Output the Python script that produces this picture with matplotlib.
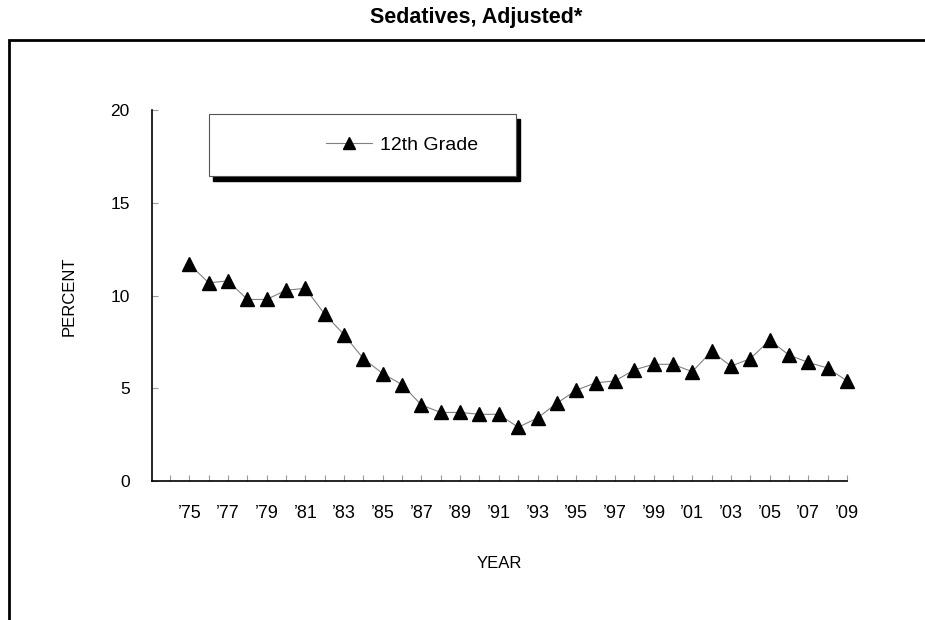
import matplotlib.pyplot as plt
from matplotlib.patches import Rectangle

plt.rcParams['font.family'] = ['Liberation Sans', 'DejaVu Sans']

# 12th grade sedatives (adjusted), percent
years = list(range(1975, 2010))
sedatives_12th = [11.7, 10.7, 10.8, 9.8, 9.8, 10.3, 10.4, 9.0, 7.9, 6.6,
                  5.8, 5.2, 4.1, 3.7, 3.7, 3.6, 3.6, 2.9, 3.4, 4.2,
                  4.9, 5.3, 5.4, 6.0, 6.3, 6.3, 5.9, 7.0, 6.2, 6.6,
                  7.6, 6.8, 6.4, 6.1, 5.4]
tick_years = list(range(1974, 2010))
tick_labels = ["\u2019%02d" % (y % 100) if y % 2 == 1 else "" for y in tick_years]
y_ticks = [0, 5, 10, 15, 20]

W, H = 925, 620
fig = plt.figure(figsize=(W / 100, H / 100), dpi=100)

# outer chart frame (runs off the right and bottom edges)
fig.add_artist(Rectangle((8.5 / W, -0.1), 1.2, 1 - 40 / H + 0.1,
                         transform=fig.transFigure, fill=False,
                         ec='black', lw=2))
fig.text(476 / W, 1 - 17 / H, 'Sedatives, Adjusted*', ha='center', va='center',
         fontsize=15.5, fontweight='bold')

ax = fig.add_axes([152 / W, 1 - 481 / H, 695 / W, 370.5 / H])
ax.plot(years, sedatives_12th, color='#808080', lw=0.8, marker='^',
        markersize=9.5, markerfacecolor='black', markeredgecolor='black',
        clip_on=False, zorder=3, label='12th Grade')

ax.set_xlim(1973.07, 2009)
ax.set_ylim(0, 20)
ax.set_xticks(tick_years)
ax.set_xticklabels(tick_labels)
ax.set_yticks(y_ticks)
ax.tick_params(axis='x', direction='in', length=4, width=0.8, color='#999999',
               pad=17.5, labelsize=13)
ax.tick_params(axis='y', direction='in', length=4, width=0.8, color='#999999',
               pad=16, labelsize=12.5)
for side in ['top', 'right']:
    ax.spines[side].set_visible(False)
for side in ['left', 'bottom']:
    ax.spines[side].set_color('black')
    ax.spines[side].set_linewidth(1.2)

ax.set_xlabel('YEAR', fontsize=12, labelpad=24)
ax.set_ylabel('PERCENT', fontsize=12, labelpad=24)

# legend box with solid black shadow
bx0, bx1 = (209 - 152) / 695, (516 - 152) / 695
by0, by1 = (481 - 176) / 370.5, (481 - 114) / 370.5
ax.add_patch(Rectangle((bx0 + 4 / 695, by0 - 5 / 370.5), bx1 - bx0, by1 - by0,
                       transform=ax.transAxes, fc='black', ec='black',
                       clip_on=False, zorder=4))
ax.add_patch(Rectangle((bx0, by0), bx1 - bx0, by1 - by0,
                       transform=ax.transAxes, fc='white', ec='#555555', lw=0.8,
                       clip_on=False, zorder=5))
leg = ax.legend(loc='center left',
                bbox_to_anchor=((326 - 152) / 695, (by0 + by1) / 2),
                frameon=False, fontsize=14, borderpad=0, borderaxespad=0,
                handlelength=2.35, handletextpad=0.42, markerscale=0.85)
leg.set_zorder(6)

fig.savefig('out.png', dpi=100)
